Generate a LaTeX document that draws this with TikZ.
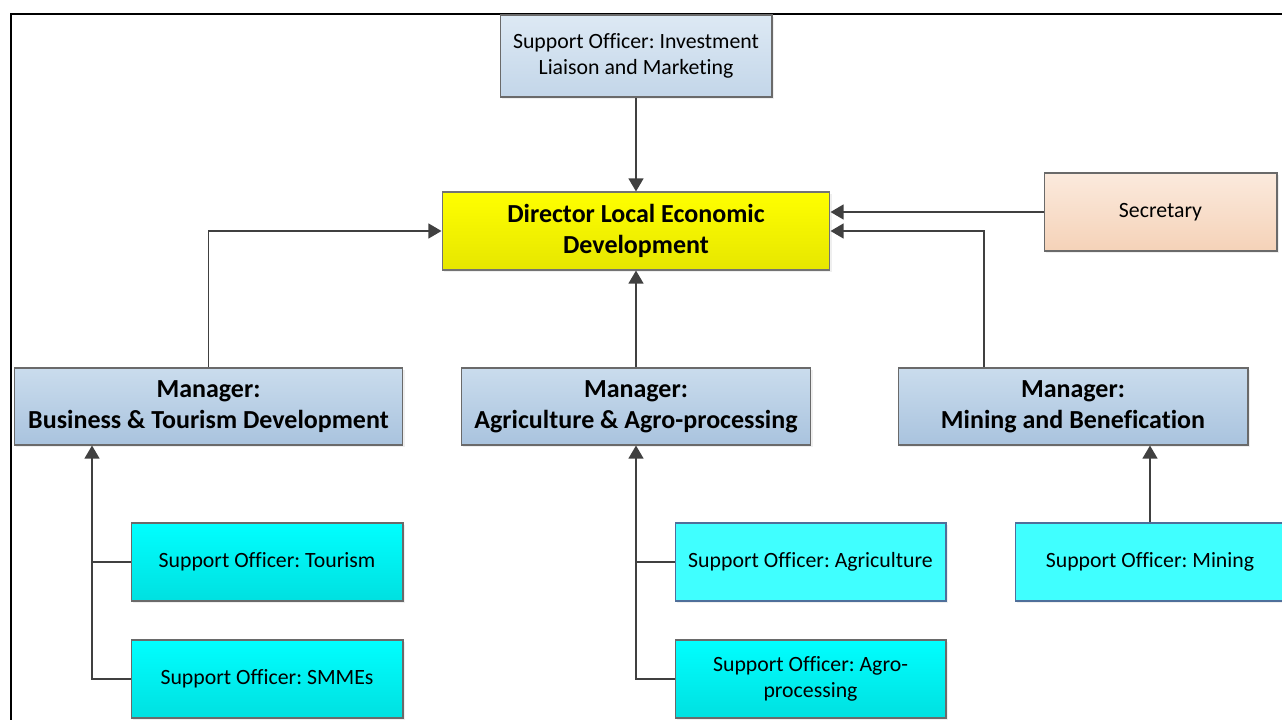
\documentclass[tikz,border=0pt]{standalone}
\usepackage{fontspec}
\setmainfont{Carlito}[Ligatures=NoCommon]
\usepackage{xcolor}
\usetikzlibrary{arrows.meta,positioning,calc,shadows}
\frenchspacing

\definecolor{linegray}{HTML}{404040}
\definecolor{boxedge}{HTML}{6A6A6A}
\definecolor{mgrtop}{HTML}{CADCED}
\definecolor{mgrbot}{HTML}{A9C3DE}
\definecolor{invtop}{HTML}{DDE9F4}
\definecolor{invbot}{HTML}{C3D6E9}
\definecolor{dirtop}{HTML}{FFFF00}
\definecolor{dirbot}{HTML}{E6E600}
\definecolor{sectop}{HTML}{FBEADD}
\definecolor{secbot}{HTML}{F5D2B8}
\definecolor{cyantop}{HTML}{00FFFF}
\definecolor{cyanbot}{HTML}{00E0E0}
\definecolor{cyanflat}{HTML}{40FFFF}
\definecolor{cyanedge}{HTML}{4F6F9A}

\begin{document}
\begin{tikzpicture}[x=0.02cm, y=-0.02cm,
		box/.style={draw=boxedge, line width=0.6pt, inner sep=0pt, align=center,
			font=\fontsize{12.4}{15}\selectfont,
			drop shadow={shadow xshift=1.2pt, shadow yshift=-1.2pt, fill=black!12}},
		mgr/.style={box, top color=mgrtop, bottom color=mgrbot, minimum width=7cm, minimum height=1.54cm,
			font=\fontsize{14.8}{17.6}\selectfont\bfseries},
		officer/.style={box, top color=cyantop, bottom color=cyanbot, minimum width=5.44cm, minimum height=1.56cm},
		officerflat/.style={box, fill=cyanflat, draw=cyanedge, minimum width=5.42cm, minimum height=1.56cm, drop shadow={opacity=0}},
		conn/.style={draw=linegray, line width=1.1pt, -{Triangle[length=7.5pt,width=8.5pt]}},
		link/.style={draw=linegray, line width=1.1pt}]
		\clip (0,0) rectangle (1282,720);
		\useasboundingbox (0,0) rectangle (1282,720);
		\draw[line width=1.2pt] (11,740) -- (11,14) -- (1300,14);

		% top level
		\node[box, top color=invtop, bottom color=invbot, minimum width=5.44cm, minimum height=1.64cm] (inv) at (636,56) {Support Officer: Investment\\Liaison and Marketing};
		\node[box, top color=dirtop, bottom color=dirbot, draw=black!55, minimum width=7.76cm, minimum height=1.56cm,
			font=\fontsize{14.8}{17.6}\selectfont\bfseries] (dir) at (636,231) {Director Local Economic\\Development};
		\node[box, top color=sectop, bottom color=secbot, minimum width=4.66cm, minimum height=1.56cm] (sec) at (1160.5,212) {Secretary};

		% managers
		\node[mgr, minimum width=7.78cm] (mbt) at (208.5,406.5) {Manager:\\Business \& Tourism Development};
		\node[mgr] (mag) at (636,406.5) {Manager:\\Agriculture \& Agro-processing};
		\node[mgr] (mmi) at (1073,406.5) {Manager:\\Mining and Benefication};

		% support officers
		\node[officer] (sot) at (267,562) {Support Officer: Tourism};
		\node[officer] (sos) at (267,679) {Support Officer: SMMEs};
		\node[officerflat] (soa) at (810.5,562) {Support Officer: Agriculture};
		\node[officer, minimum width=5.42cm] (sop) at (810.5,679) {Support Officer: Agro-\\processing};
		\node[officerflat, minimum width=5.4cm] (som) at (1150,562) {Support Officer: Mining};

		% reporting lines
		\draw[conn] (inv) -- (dir);
		\draw[conn] (sec) -- (sec -| dir.east);
		\draw[conn] ([xshift=-1.78cm]mmi.north) |- (dir.east);
		\draw[conn] (mbt.north) |- (dir.west);
		\draw[conn] (mag) -- (dir);

		\coordinate (btx) at ([xshift=-2.33cm]mbt.south);
		\draw[conn] (sos.west) -| (btx);
		\draw[link] (sot.west) -- (sot.west -| btx);

		\draw[conn] (sop.west) -| (mag.south);
		\draw[draw=linegray, line width=0.6pt] (soa.west) -- (soa.west -| mag.south);

		\draw[conn] (som) -- (som |- mmi.south);
	\end{tikzpicture}
\end{document}
